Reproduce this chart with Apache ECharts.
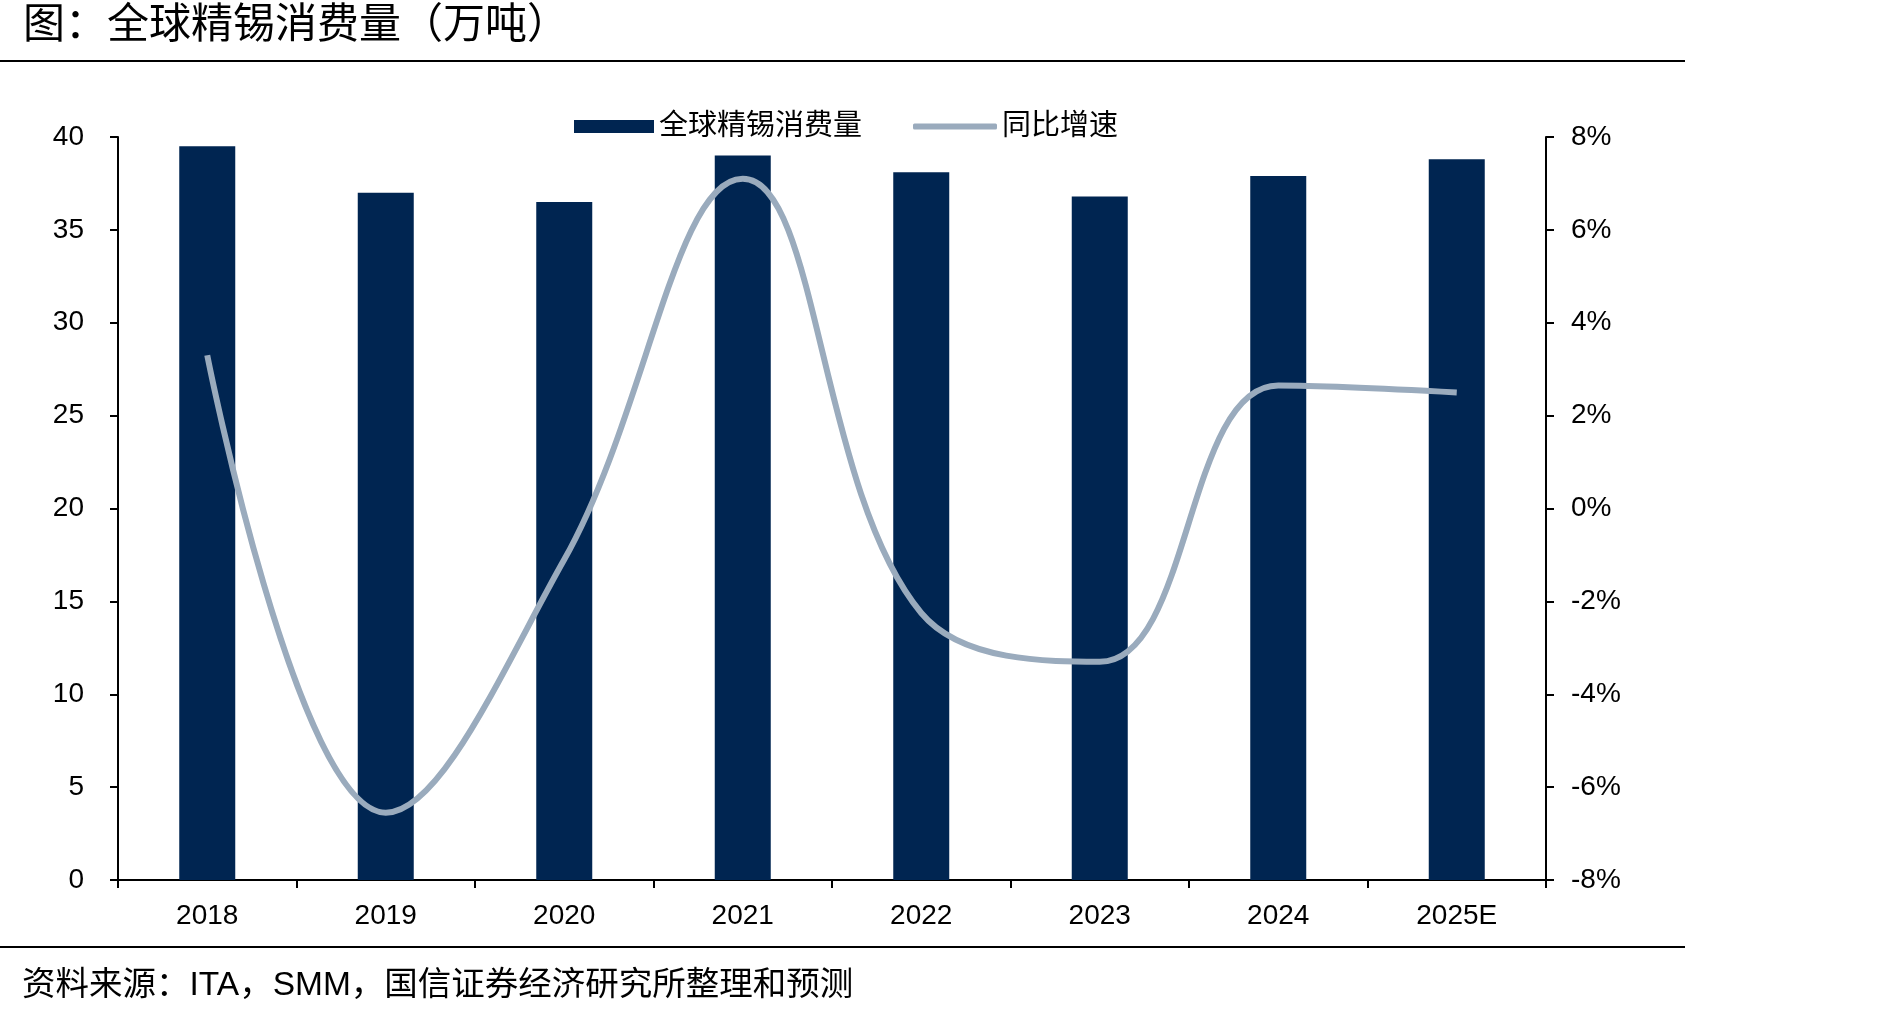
<!DOCTYPE html>
<html>
<head>
<meta charset="utf-8">
<script src="https://cdn.jsdelivr.net/npm/echarts@6/dist/echarts.min.js"></script>
<style>
  html, body { margin: 0; padding: 0; background: #fff; }
  #main { width: 1877px; height: 1016px; }
</style>
</head>
<body>
<div id="main"></div>
<script>
// 数据
var years = ['2018', '2019', '2020', '2021', '2022', '2023', '2024', '2025E'];
var consumption = [39.5, 37.0, 36.5, 39.0, 38.1, 36.8, 37.9, 38.8]; // 万吨
var growth = [3.3, -6.55, -1.1, 7.1, -2.25, -3.3, 2.65, 2.5]; // %

var FONT = '"Liberation Sans", Arial, "Noto Sans CJK SC", sans-serif';
var chart = echarts.init(document.getElementById('main'));

chart.setOption({
    animation: false,
    textStyle: { fontFamily: FONT },
    title: {
        text: '图：全球精锡消费量（万吨）',
        left: 18,
        top: 0,
        textStyle: { fontSize: 42, fontWeight: 'normal', color: '#000', fontFamily: FONT }
    },
    graphic: [
        { type: 'line', shape: { x1: 0, y1: 61, x2: 1685, y2: 61 }, style: { stroke: '#000', lineWidth: 2 } },
        { type: 'line', shape: { x1: 0, y1: 947, x2: 1685, y2: 947 }, style: { stroke: '#000', lineWidth: 2 } },
        {
            type: 'text', left: 22, top: 969,
            style: { text: '资料来源：ITA，SMM，国信证券经济研究所整理和预测', fill: '#000', font: '33.5px ' + FONT }
        }
    ],
    // 两个图例：柱形用方块，折线用细长圆角条
    legend: [
        {
            left: 569, top: 107,
            itemWidth: 80, itemHeight: 13, itemGap: 10,
            textStyle: { fontSize: 29, color: '#000' },
            data: [{ name: '全球精锡消费量', icon: 'rect' }]
        },
        {
            left: 908, top: 107,
            itemWidth: 84, itemHeight: 6, itemGap: 7,
            textStyle: { fontSize: 29, color: '#000' },
            data: [{ name: '同比增速', icon: 'roundRect' }]
        }
    ],
    grid: { left: 118, right: 331, top: 137, bottom: 136 },
    xAxis: {
        type: 'category',
        data: years,
        axisLine: { lineStyle: { color: '#000', width: 2 } },
        axisTick: { show: true, length: 8, lineStyle: { color: '#000', width: 2 } },
        axisLabel: { fontSize: 28, color: '#000', margin: 22 }
    },
    yAxis: [
        {
            type: 'value', min: 0, max: 40, interval: 5,
            axisLine: { show: true, lineStyle: { color: '#000', width: 2 } },
            axisTick: { show: true, length: 8, lineStyle: { color: '#000', width: 2 } },
            axisLabel: { fontSize: 28, color: '#000', margin: 34 },
            splitLine: { show: false }
        },
        {
            type: 'value', min: -8, max: 8, interval: 2,
            axisLine: { show: true, lineStyle: { color: '#000', width: 2 } },
            axisTick: { show: true, length: 8, lineStyle: { color: '#000', width: 2 } },
            axisLabel: { fontSize: 28, color: '#000', margin: 25, formatter: '{value}%' },
            splitLine: { show: false }
        }
    ],
    series: [
        {
            name: '全球精锡消费量',
            type: 'bar',
            data: consumption,
            barWidth: 56,
            itemStyle: { color: '#002551' }
        },
        {
            name: '同比增速',
            type: 'line',
            yAxisIndex: 1,
            data: growth,
            smooth: 0.4,
            symbol: 'none',
            lineStyle: { color: '#9aabbd', width: 6 },
            itemStyle: { color: '#9aabbd' }
        }
    ]
});
</script>
</body>
</html>
